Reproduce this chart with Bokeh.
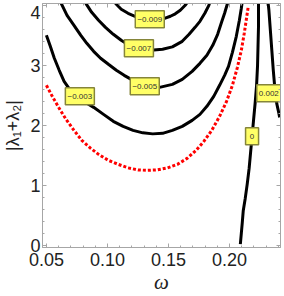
from bokeh.plotting import figure
from bokeh.models import LinearAxis, Range1d, FixedTicker
from bokeh.embed import file_html
from bokeh.resources import INLINE
from bokeh.core.properties import value

# ---- data ----
c009_w = [0.1065, 0.1113, 0.1169, 0.1226, 0.1290, 0.1347, 0.1411, 0.1468, 0.1516, 0.1556, 0.1597, 0.1637, 0.1661]
c009_v = [4.033, 3.933, 3.867, 3.817, 3.775, 3.758, 3.767, 3.783, 3.817, 3.858, 3.917, 4.0, 4.067]

c007_w = [0.0823, 0.0871, 0.0927, 0.0984, 0.1048, 0.1113, 0.1177, 0.1258, 0.1355, 0.1452, 0.1532, 0.1613, 0.1669, 0.1718, 0.1758, 0.1798, 0.1831, 0.1839]
c007_v = [4.033, 3.883, 3.75, 3.633, 3.517, 3.417, 3.333, 3.275, 3.25, 3.267, 3.308, 3.4, 3.517, 3.633, 3.733, 3.867, 4.0, 4.05]

c005_w = [0.0621, 0.0669, 0.0726, 0.0782, 0.0831, 0.0887, 0.0944, 0.1008, 0.1073, 0.1137, 0.1210, 0.1306, 0.1427, 0.1532, 0.1613, 0.1694, 0.1758, 0.1815, 0.1863, 0.1903, 0.1935, 0.1960, 0.1984]
c005_v = [4.033, 3.833, 3.667, 3.5, 3.367, 3.233, 3.117, 3.017, 2.917, 2.833, 2.75, 2.667, 2.633, 2.683, 2.767, 2.9, 3.033, 3.167, 3.333, 3.517, 3.717, 3.867, 4.033]

c003_w = [0.05, 0.0532, 0.0565, 0.0605, 0.0645, 0.0702, 0.0766, 0.0831, 0.0887, 0.0968, 0.1048, 0.1129, 0.1210, 0.1290, 0.1371, 0.1452, 0.1532, 0.1613, 0.1694, 0.1758, 0.1815, 0.1871, 0.1919, 0.1960, 0.1992, 0.2024, 0.2056, 0.2081, 0.2097, 0.2105]
c003_v = [3.5, 3.317, 3.117, 2.917, 2.733, 2.567, 2.45, 2.367, 2.3, 2.183, 2.067, 1.983, 1.917, 1.875, 1.858, 1.867, 1.917, 1.983, 2.083, 2.183, 2.317, 2.483, 2.667, 2.833, 2.983, 3.217, 3.483, 3.75, 3.95, 4.067]

c000_w = [0.2089, 0.2097, 0.2105, 0.2113, 0.2129, 0.2145, 0.2161, 0.2173, 0.2185, 0.2197, 0.2210, 0.2222, 0.2230, 0.2234, 0.2238, 0.2238]
c000_v = [0.02, 0.2, 0.383, 0.583, 0.783, 1.017, 1.283, 1.55, 1.817, 2.083, 2.367, 2.667, 3.0, 3.333, 3.667, 4.067]

c002_w = [0.2315, 0.2323, 0.2335, 0.2347, 0.2359, 0.2371, 0.2387, 0.2403, 0.2411]
c002_v = [4.067, 3.917, 3.583, 3.25, 2.917, 2.633, 2.367, 2.217, 2.133]

red_w = [0.05, 0.0548, 0.0605, 0.0661, 0.0726, 0.0790, 0.0863, 0.0927, 0.1008, 0.1089, 0.1169, 0.1250, 0.1331, 0.1411, 0.1492, 0.1573, 0.1653, 0.1726, 0.1790, 0.1855, 0.1919, 0.1976, 0.2024, 0.2065, 0.2097, 0.2121, 0.2137, 0.2153]
red_v = [2.667, 2.483, 2.283, 2.1, 1.917, 1.75, 1.617, 1.517, 1.417, 1.35, 1.292, 1.258, 1.25, 1.258, 1.292, 1.35, 1.45, 1.583, 1.733, 1.917, 2.15, 2.4, 2.667, 2.967, 3.25, 3.533, 3.75, 3.967]

label_text = ["\u22120.009", "\u22120.007", "\u22120.005", "\u22120.003", "0.002", "0"]
label_w = [0.1347, 0.1258, 0.1306, 0.0774, 0.2322, 0.2185]
label_v = [3.767, 3.283, 2.65, 2.483, 2.533, 1.817]

x_ticks = [0.05, 0.10, 0.15, 0.20]
x_minor = [0.04, 0.05, 0.06, 0.07, 0.08, 0.09, 0.10, 0.11, 0.12, 0.13, 0.14, 0.15, 0.16, 0.17, 0.18, 0.19, 0.20, 0.21, 0.22, 0.23, 0.24]
x_tick_labels = ["0.05", "0.10", "0.15", "0.20"]
y_ticks = [0, 1, 2, 3, 4]
y_minor = [0.2, 0.4, 0.6, 0.8, 1.2, 1.4, 1.6, 1.8, 2.2, 2.4, 2.6, 2.8, 3.2, 3.4, 3.6, 3.8]
y_tick_labels = ["0", "1", "2", "3", "4"]
# where the y tick labels sit (the top one is pushed inside, as in the reference)
y_label_pos = [0, 1, 2, 3, 3.88]

# ---- styling ----
frame_gray = "#a6a6a6"
text_dark = "#222222"

p = figure(width=284, height=296, output_backend="svg", toolbar_location=None,
           x_range=Range1d(0.0468, 0.2418), y_range=Range1d(-0.035, 4.03),
           min_border_left=38, min_border_right=4, min_border_top=3, min_border_bottom=49)
p.xgrid.visible = False
p.ygrid.visible = False
p.outline_line_color = frame_gray
p.background_fill_color = "white"
p.border_fill_color = "white"

def style_axis(ax, ticks, minor, labels, show_labels):
    ax.ticker = FixedTicker(ticks=ticks, minor_ticks=minor)
    ax.axis_line_color = frame_gray
    ax.major_tick_line_color = frame_gray
    ax.minor_tick_line_color = frame_gray
    ax.major_tick_in = 4
    ax.major_tick_out = 0
    ax.minor_tick_in = 2
    ax.minor_tick_out = 0
    if show_labels:
        ax.major_label_overrides = {t: l for t, l in zip(ticks, labels)}
        ax.major_label_text_font = "Liberation Sans"
        ax.major_label_text_font_size = "18px"
        ax.major_label_text_color = text_dark
    else:
        ax.major_label_overrides = {t: "" for t in ticks}
        ax.major_label_text_font_size = "1px"
        ax.major_label_standoff = 0

style_axis(p.xaxis[0], x_ticks, x_minor, x_tick_labels, True)
p.xaxis[0].major_label_standoff = 5
p.xaxis[0].axis_label = "ω"
p.xaxis[0].axis_label_text_font = "Liberation Serif"
p.xaxis[0].axis_label_text_font_style = "italic"
p.xaxis[0].axis_label_text_font_size = "21px"
p.xaxis[0].axis_label_text_color = text_dark
p.xaxis[0].axis_label_standoff = 1

# inner left axis: frame line and tick marks only
style_axis(p.yaxis[0], y_ticks, y_minor, y_tick_labels, False)

# outer left axis: tick labels and the axis title, no marks
ylab = LinearAxis(ticker=FixedTicker(ticks=y_label_pos, minor_ticks=[]))
ylab.major_label_overrides = {t: l for t, l in zip(y_label_pos, y_tick_labels)}
ylab.axis_line_color = None
ylab.major_tick_line_color = None
ylab.minor_tick_line_color = None
ylab.major_tick_in = 0
ylab.major_tick_out = 0
ylab.major_label_standoff = 2
ylab.major_label_text_font = "Liberation Sans"
ylab.major_label_text_font_size = "18px"
ylab.major_label_text_color = text_dark
ylab.axis_label = "|λ₁+λ₂|"
ylab.axis_label_text_font = "Liberation Sans"
ylab.axis_label_text_font_style = "normal"
ylab.axis_label_text_font_size = "18px"
ylab.axis_label_text_color = text_dark
ylab.axis_label_standoff = 4
p.add_layout(ylab, "left")

top = LinearAxis()
style_axis(top, x_ticks, x_minor, x_tick_labels, False)
p.add_layout(top, "above")
right = LinearAxis()
style_axis(right, y_ticks, y_minor, y_tick_labels, False)
p.add_layout(right, "right")

for xs, ys in [(c009_w, c009_v), (c007_w, c007_v), (c005_w, c005_v), (c003_w, c003_v),
               (c000_w, c000_v), (c002_w, c002_v)]:
    p.line(xs, ys, line_color="black", line_width=3)

p.line(red_w, red_v, line_color="#ff0000", line_width=3, line_dash="3 2")

box_w = [29, 29, 29, 29, 24, 13]
p.rect(x=label_w, y=label_v, width=box_w, height=17, width_units="screen", height_units="screen",
       fill_color="#ffff66", line_color="#85853a", line_width=1.5)
p.text(x=label_w, y=label_v, text=label_text, text_align="center", text_baseline="middle",
       text_font=value("Liberation Sans"), text_font_size="8px", text_color="#333333")

open("out.html", "w").write(file_html(p, INLINE))
